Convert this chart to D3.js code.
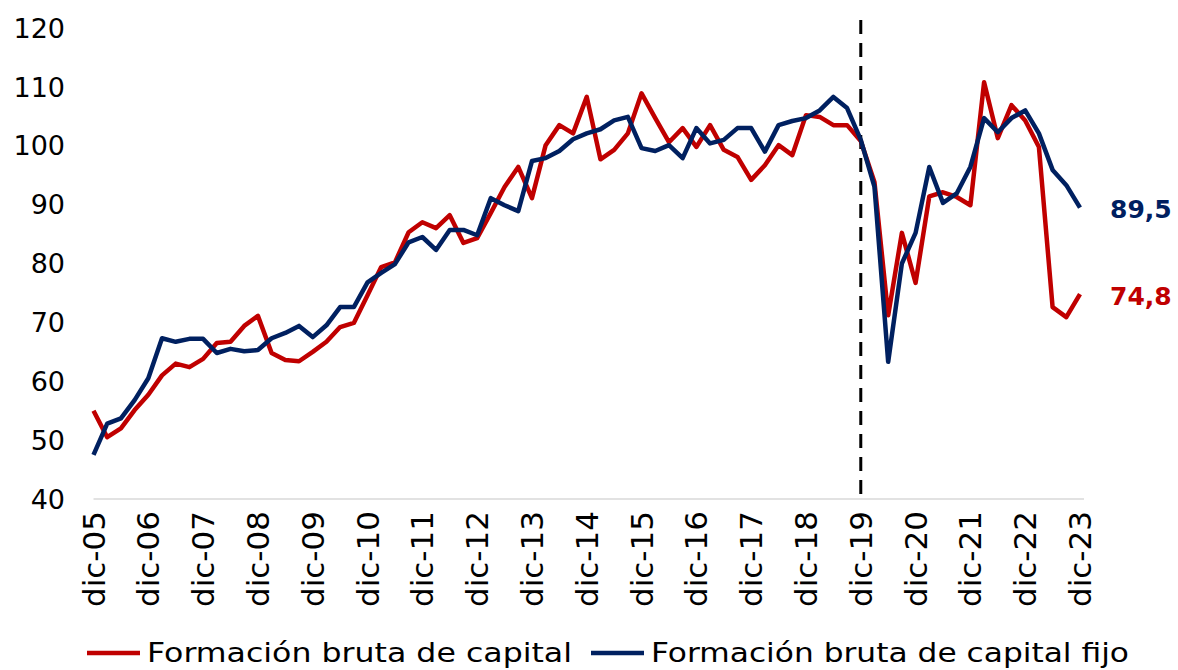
<!DOCTYPE html>
<html>
<head>
<meta charset="utf-8">
<script src="https://cdn.jsdelivr.net/npm/d3@7/dist/d3.min.js"></script>
<style>
  body { margin: 0; background: #fff; font-family: "DejaVu Sans", "Noto Sans", sans-serif; }
</style>
</head>
<body>
<script>
// trimestral, dic-05 a dic-23
var fbc = [55.0, 50.5, 52.0, 55.1, 57.7, 61.0, 63.0, 62.4, 63.8, 66.5,
           66.7, 69.4, 71.1, 64.8, 63.6, 63.4, 65.0, 66.7, 69.2, 69.9,
           74.6, 79.4, 80.2, 85.3, 87.0, 86.0, 88.2, 83.5, 84.3, 88.6,
           93.0, 96.4, 91.1, 100.1, 103.5, 102.1, 108.3, 97.7, 99.3, 102.1,
           108.9, 104.7, 100.6, 103.0, 99.8, 103.5, 99.3, 98.1, 94.2, 96.7,
           100.1, 98.4, 105.2, 104.9, 103.5, 103.5, 100.8, 93.8, 71.2, 85.2,
           76.7, 91.4, 92.1, 91.3, 89.9, 110.8, 101.3, 106.9, 104.3, 99.8,
           72.6, 70.9, 74.8];
var fbcf = [47.5, 52.8, 53.7, 56.8, 60.5, 67.3, 66.7, 67.2, 67.2, 64.8,
            65.5, 65.1, 65.3, 67.3, 68.2, 69.4, 67.5, 69.5, 72.6, 72.6,
            76.8, 78.4, 79.9, 83.6, 84.5, 82.3, 85.7, 85.7, 84.8, 91.1,
            89.9, 88.9, 97.4, 97.9, 99.1, 101.1, 102.1, 102.8, 104.3, 104.9,
            99.6, 99.1, 100.1, 97.9, 103.0, 100.4, 101.0, 103.0, 103.0, 99.0,
            103.5, 104.2, 104.7, 106.0, 108.3, 106.4, 101.0, 93.0, 63.3, 80.0,
            85.2, 96.4, 90.3, 91.9, 96.4, 104.7, 102.3, 104.7, 106.0, 102.1,
            95.9, 93.3, 89.5];
var yTicks = [40, 50, 60, 70, 80, 90, 100, 110, 120];
var yearLabels = ["dic-05","dic-06","dic-07","dic-08","dic-09","dic-10","dic-11","dic-12","dic-13",
                  "dic-14","dic-15","dic-16","dic-17","dic-18","dic-19","dic-20","dic-21","dic-22","dic-23"];
var seriesNames = ["Formación bruta de capital", "Formación bruta de capital fijo"];
var endLabels = ["74,8", "89,5"];
var breakIndex = 56; // dic-19

var width = 1178, height = 670;
var red = "#C00000", blue = "#002060";

var svg = d3.select("body").append("svg")
  .attr("width", width).attr("height", height);

var x = d3.scaleLinear().domain([0, fbc.length - 1]).range([93.5, 1080]);
var y = d3.scaleLinear().domain([40, 120]).range([499, 28]);

// linea base
svg.append("line")
  .attr("x1", x(0)).attr("x2", x(fbc.length - 1) + 4)
  .attr("y1", y(40)).attr("y2", y(40))
  .attr("stroke", "#d9d9d9").attr("stroke-width", 1.5);

// eje y
svg.append("g").selectAll("text")
  .data(yTicks).enter().append("text")
  .attr("x", 65).attr("y", function(d){ return y(d); })
  .attr("dy", "0.36em")
  .attr("text-anchor", "end")
  .attr("font-size", 27)
  .attr("fill", "#000")
  .text(function(d){ return d; });

// eje x
svg.append("g").selectAll("text")
  .data(yearLabels).enter().append("text")
  .attr("transform", function(d, i){ return "translate(" + (x(i * 4) + 11) + ",511) rotate(-90)"; })
  .attr("text-anchor", "end")
  .attr("font-size", 31)
  .attr("fill", "#000")
  .text(function(d){ return d; });

// linea vertical dic-19
svg.append("line")
  .attr("x1", x(breakIndex)).attr("x2", x(breakIndex))
  .attr("y1", 20).attr("y2", y(40))
  .attr("stroke", "#000").attr("stroke-width", 3)
  .attr("stroke-dasharray", "14,9");

var line = d3.line()
  .x(function(d, i){ return x(i); })
  .y(function(d){ return y(d); });

svg.append("path").datum(fbc)
  .attr("fill", "none").attr("stroke", red)
  .attr("stroke-width", 4.5).attr("stroke-linejoin", "round")
  .attr("d", line);

svg.append("path").datum(fbcf)
  .attr("fill", "none").attr("stroke", blue)
  .attr("stroke-width", 4.5).attr("stroke-linejoin", "round")
  .attr("d", line);

// etiquetas finales
svg.append("text")
  .attr("x", 1110).attr("y", y(fbc[fbc.length - 1]) + 2).attr("dy", "0.36em")
  .attr("font-size", 25).attr("font-weight", "bold").attr("fill", red)
  .text(endLabels[0]);
svg.append("text")
  .attr("x", 1110).attr("y", y(fbcf[fbcf.length - 1]) + 1).attr("dy", "0.36em")
  .attr("font-size", 25).attr("font-weight", "bold").attr("fill", blue)
  .text(endLabels[1]);

// leyenda
var legend = [{name: seriesNames[0], color: red, x: 87, w: 425},
              {name: seriesNames[1], color: blue, x: 591, w: 478}];
var lg = svg.append("g").selectAll("g").data(legend).enter().append("g")
  .attr("transform", function(d){ return "translate(" + d.x + ",653)"; });
lg.append("line")
  .attr("x1", 0).attr("x2", 53).attr("y1", 0).attr("y2", 0)
  .attr("stroke", function(d){ return d.color; }).attr("stroke-width", 4.5);
lg.append("text")
  .attr("x", 60).attr("dy", "0.36em")
  .attr("font-size", 26).attr("fill", "#000")
  .attr("textLength", function(d){ return d.w; })
  .attr("lengthAdjust", "spacingAndGlyphs")
  .text(function(d){ return d.name; });
</script>
</body>
</html>
